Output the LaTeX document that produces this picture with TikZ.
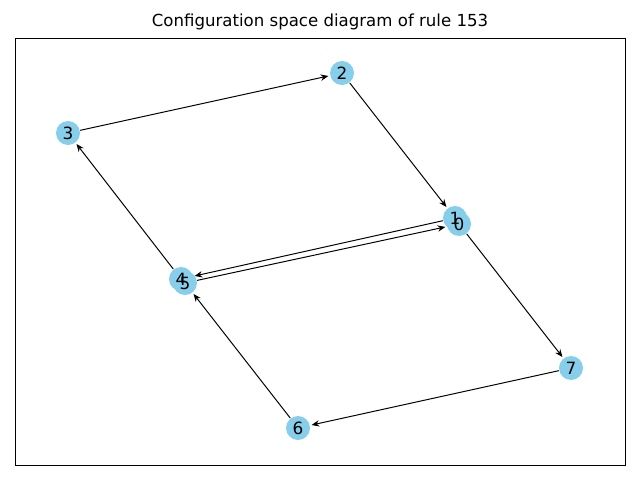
\documentclass[tikz,border=0pt]{standalone}
\usepackage{fontspec}
\setmainfont{DejaVu Sans}
\usetikzlibrary{arrows.meta}
\definecolor{skyblue}{HTML}{87CEEB}

\begin{document}
\begin{tikzpicture}[x=0.025cm,y=-0.025cm,->,>={Stealth[length=5.5pt,width=4.5pt]},shorten >=1pt,line width=0.7pt,main node/.style={circle,fill=skyblue,minimum size=0.6cm,inner sep=0pt,font=\fontsize{12}{12}\selectfont}]
                \useasboundingbox (0,0) rectangle (640,480);
                \draw[-,line width=0.5pt] (15,38) rectangle (625,465);
                \node[font=\fontsize{11.8}{12}\selectfont] (title) at (320,22) {Configuration space diagram of rule 153};

                \node[main node] (0) at (459,224) {};
                \node[main node] (1) at (455,218) {};
                \node[main node] (2) at (342,73) {2};
                \node[main node] (3) at (68,133) {3};
                \node[main node] (4) at (181,279) {};
                \node[main node] (5) at (185,283) {};
                \node[main node] (6) at (298,428) {6};
                \node[main node] (7) at (571,368) {7};
                \node[font=\fontsize{12}{12}\selectfont] at (0) {0};
                \node[font=\fontsize{12}{12}\selectfont] at (1) {1};
                \node[font=\fontsize{12}{12}\selectfont] at (4) {4};
                \node[font=\fontsize{12}{12}\selectfont] at (5) {5};

                \path
                    (3) edge (2)
                    (2) edge (1)
                    (1) edge (4)
                    (5) edge (0)
                    (0) edge (7)
                    (7) edge (6)
                    (6) edge (5)
                    (4) edge (3)
                    ;
            \end{tikzpicture}
\end{document}
